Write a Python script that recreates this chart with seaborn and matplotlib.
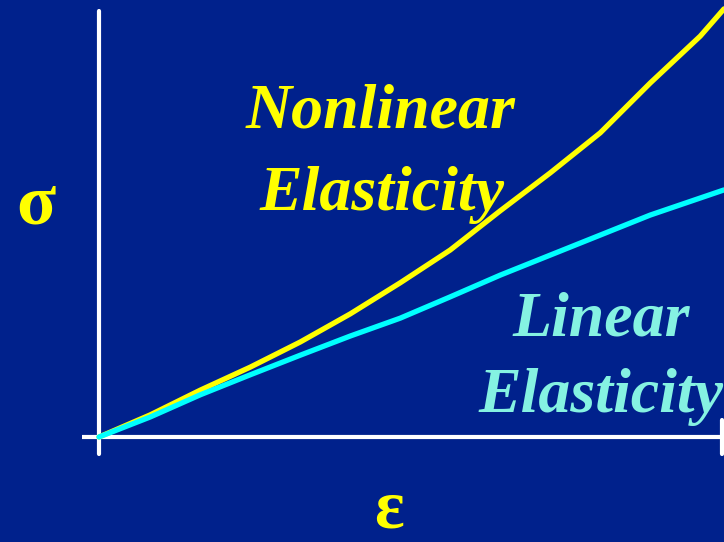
import numpy as np
import pandas as pd
import seaborn as sns
import matplotlib
matplotlib.use("Agg")
import matplotlib.pyplot as plt

# strain (normalised, 0 = origin, 1 = right end of the axis)
strain = [0.0, 0.082, 0.162, 0.242, 0.322, 0.402, 0.482, 0.562,
          0.642, 0.722, 0.802, 0.882, 0.962, 1.0]
# stress (normalised, 1 = top of the stress axis)
stress_nonlinear = [0.0, 0.052, 0.110, 0.164, 0.223, 0.289, 0.362, 0.439,
                    0.531, 0.620, 0.714, 0.831, 0.941, 1.005]
stress_linear = [0.0, 0.047, 0.099, 0.146, 0.192, 0.237, 0.279, 0.329,
                 0.380, 0.427, 0.474, 0.521, 0.561, 0.580]

bg = "#00218C"
yellow = "#FFFF00"
cyan = "#00FFFF"
label_cyan = "#85F2E2"

sns.set_style("white")
plt.rcParams['font.family'] = ['Liberation Serif', 'DejaVu Serif']

fig = plt.figure(figsize=(7.24, 5.42), dpi=100)
fig.patch.set_facecolor(bg)
ax = fig.add_axes([0, 0, 1, 1])
ax.set_facecolor(bg)

W, H = 724, 542
x0, y0 = 99, 437      # origin in pixels
sx, sy = 625, 426     # pixel length of one unit

# axes drawn as white lines
ax.plot([0, 0], [-17 / sy, 1.0], color="white", lw=3, solid_capstyle="round")
ax.plot([-17 / sx, 1.0], [0, 0], color="white", lw=3, solid_capstyle="butt")
ax.plot([0.997, 0.997], [-17 / sy, 17 / sy], color="white", lw=3)

df = pd.DataFrame({"strain": strain,
                   "nonlinear": stress_nonlinear,
                   "linear": stress_linear})
sns.lineplot(data=df, x="strain", y="nonlinear", color=yellow, lw=3.8,
             estimator=None, sort=False, ax=ax)
sns.lineplot(data=df, x="strain", y="linear", color=cyan, lw=3.8,
             estimator=None, sort=False, ax=ax)
ax.set_xlim(-x0 / sx, (W - x0) / sx)
ax.set_ylim(-(H - y0) / sy, y0 / sy)
ax.axis("off")


def put(text, px, py, color, size, style="italic"):
    ax.text(px / W, 1 - py / H, text, transform=ax.transAxes, color=color,
            fontsize=size, fontweight="bold", fontstyle=style,
            ha="center", va="baseline")


put("Nonlinear", 381, 128, yellow, 46)
put("Elasticity", 382, 210, yellow, 46)
put("Linear", 601, 336, label_cyan, 46)
put("Elasticity", 601, 412, label_cyan, 46)
put("σ", 36, 224, yellow, 52, style="normal")
put("ε", 389, 527, yellow, 50, style="normal")

fig.savefig("out.png", dpi=100, facecolor=bg)
